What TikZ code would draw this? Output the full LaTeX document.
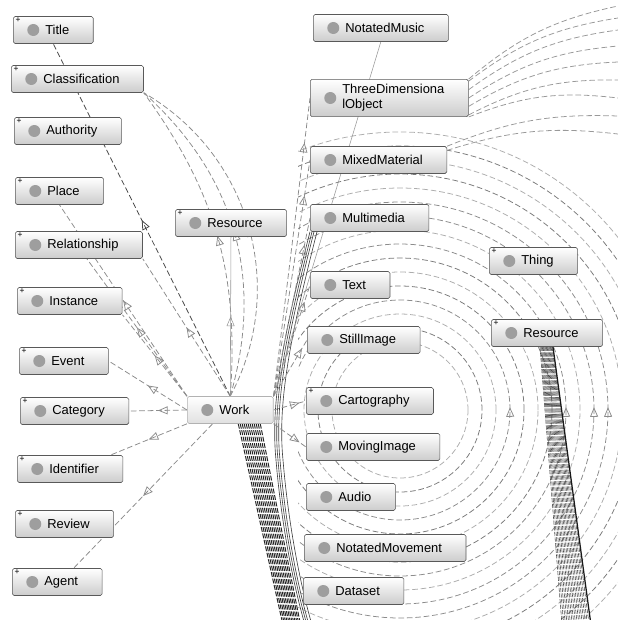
\documentclass[tikz,border=0pt]{standalone}
\usepackage{fontspec}
\setmainfont{Liberation Sans}
\usetikzlibrary{arrows.meta,positioning,calc,backgrounds,decorations.markings}
\tikzset{
    cls/.style={draw=black!65,rounded corners=1.2pt,top color=white,bottom color=black!20,
        minimum height=6.75mm,inner xsep=6mm,inner ysep=0.8mm,anchor=west,
        font=\fontsize{9.2}{11}\selectfont,execute at begin node={\hspace*{2mm}},
        path picture={\fill[black!38] ([xshift=5mm]path picture bounding box.west) circle (1.5mm);}},
    plus/.style={label={[anchor=north west,inner sep=0pt,xshift=0.6mm,yshift=-0.3mm,font=\fontsize{6}{6}\selectfont]north west:+}},
    rel/.style={dash pattern=on 4pt off 2pt,draw=black!45,line width=0.55pt},
    reldark/.style={rel,draw=black!72},
    flow/.style={postaction={decorate},decoration={markings,mark=at position #1 with {\arrow{Triangle[open,length=2.4mm,width=2mm]}}}},
    flow/.default=0.5,
    ringa/.style={rel,draw=black!32},
    ringb/.style={rel,draw=black!52},
    ringt/.style={rel,draw=black!45,flow=2pt}
}

\begin{document}
\begin{tikzpicture}[x=0.025cm,y=-0.025cm]
    \useasboundingbox (0,0) rectangle (618,620);
    % left column
    \node[cls,plus] (title) at (13,30) {Title};
    \node[cls,plus] (classif) at (11,79) {Classification};
    \node[cls,plus] (authority) at (14,131) {Authority};
    \node[cls,plus] (place) at (15,191) {Place};
    \node[cls,plus] (relationship) at (15,245) {Relationship};
    \node[cls,plus] (instance) at (17,301) {Instance};
    \node[cls,plus] (event) at (19,361) {Event};
    \node[cls,plus] (category) at (20,411) {Category};
    \node[cls,plus] (identifier) at (17,469) {Identifier};
    \node[cls,plus] (review) at (15,524) {Review};
    \node[cls,plus] (agent) at (12,582) {Agent};
    % centre
    \node[cls,plus] (resource) at (175,223) {Resource};
    \node[cls,draw=black!30,bottom color=black!12] (work) at (187,410) {Work};
    % media classes
    \node[cls] (notmusic) at (313,28) {NotatedMusic};
    \node[cls] (threed) at (310,98) {\begin{tabular}{@{}l@{}}ThreeDimensiona\\lObject\end{tabular}};
    \node[cls] (mixed) at (310,160) {MixedMaterial};
    \node[cls] (multimedia) at (310,218) {Multimedia};
    \node[cls] (text) at (310,285) {Text};
    \node[cls] (still) at (307,340) {StillImage};
    \node[cls,plus] (carto) at (306,401) {Cartography};
    \node[cls] (moving) at (306,447) {MovingImage};
    \node[cls] (audio) at (306,497) {Audio};
    \node[cls] (notmove) at (304,548) {NotatedMovement};
    \node[cls] (dataset) at (303,591) {Dataset};
    % right
    \node[cls,plus] (thing) at (489,261) {Thing};
    \node[cls,plus] (resource2) at (491,333) {Resource};

    \begin{scope}[on background layer]
    % rings round the media classes
    \coordinate (hub) at (400,410);
    \begin{scope}
        \clip (298,0) rectangle (618,620);
        \foreach \r/\s in {68/ringa,82/ringb,96/ringa,110/ringt,124/ringb,138/ringa,152/ringb,166/ringt,
                           180/ringa,194/ringt,208/ringt,222/ringa,236/ringb,250/ringa,264/ringb,278/ringa}
            \draw[\s] (hub) ++(\r,0) arc[start angle=0,end angle=-360,radius=\r];
    \end{scope}
    % arcs leaving to the right
    \foreach \a/\yb in {north east/6,12/18,6/30,0/46,-6/62,-12/80,south east/98}
        \draw[rel,draw=black!40] (threed.\a) to[bend left=14] (618,\yb);
    \foreach \a/\yb in {north east/116,8/134}
        \draw[rel,draw=black!40] (mixed.\a) to[bend left=12] (618,\yb);
    % dark band
    \foreach \d in {0,2,4,7}
        \draw[black!75,line width=0.45pt] ($(multimedia.south west)+(\d,0)$) .. controls (285+\d,330) and (270+\d,400) .. (276+\d,460)
            .. controls (281+\d,520) and (292+\d,580) .. (305+\d,625);
    % bundle below Work
    \foreach \i in {0,...,11}
        \draw[black!85,line width=0.7pt,dash pattern=on 3.5pt off 1.2pt] ($(work.south)+(8+2*\i,0)$) -- (283+1.6*\i,625);
    % bundle below Resource
    \foreach \i in {0,...,16}
        \draw[black!70,line width=0.4pt,dash pattern=on 3pt off 1pt] ($(resource2.south)+(-7+0.8*\i,0)$) -- (562+1.7*\i,625);
    \draw[black!90,line width=0.9pt] ($(resource2.south)+(6,0)$) -- (591,625);
    % edges of Work
    \draw[reldark,flow] (work.north) -- (title.south);
    \foreach \b in {20,32,44}
        \draw[rel,flow] (work.north) to[bend right=\b] (classif.south east);
    \draw[rel,flow] (work.north west) -- (place.south);
    \draw[rel,flow] (work.north) -- (relationship.south east);
    \draw[rel,flow] (work.north west) -- (relationship.-60);
    \draw[rel,flow] (work.north west) -- (instance.south east);
    \draw[rel,flow] (work.west) -- (event.east);
    \draw[rel,flow] (work.west) -- (category.east);
    \draw[rel,flow] (work.south west) -- (identifier.19);
    \draw[rel,flow] (work.218) -- (agent.40);
    \draw[black!40,flow] (work.north) -- (resource.south);
    \draw[black!40] (work.north east) -- (notmusic.south);
    \foreach \t in {threed,mixed,multimedia,text,still}
        \draw[rel,flow=0.85] (work.north east) -- (\t.west);
    \draw[rel,flow=0.8] (work.east) -- (carto.west);
    \draw[rel,flow=0.8] (work.south east) -- (moving.west);
    \end{scope}
\end{tikzpicture}
\end{document}
